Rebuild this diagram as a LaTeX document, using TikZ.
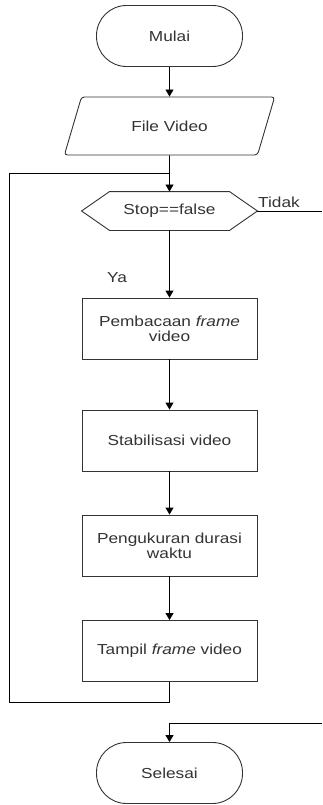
\documentclass[tikz,border=0pt]{standalone}
\usepackage{fontspec}
\setmainfont{Liberation Sans}[FakeStretch=1.19]
\usepackage{tikz}
\usetikzlibrary{arrows.meta, shapes.geometric}

\begin{document}
\begin{tikzpicture}[x=1pt, y=-1pt, line width=0.9pt,
    font=\fontsize{14.5}{15}\selectfont,
    terminal/.style={rectangle, rounded corners=30pt, draw=black!80, text=black!80,
      minimum width=146pt, minimum height=61pt},
    process/.style={rectangle, draw=black!80, text=black!80, align=center,
      minimum width=175pt, minimum height=61pt},
    inout/.style={trapezium, trapezium left angle=65, trapezium right angle=115,
      trapezium stretches=true, rounded corners=3pt, draw=black!80, text=black!80,
      minimum width=212pt, minimum height=58pt},
    flow/.style={draw=black, -{Triangle[width=8pt,length=7pt]}}]
      \useasboundingbox (0,0) rectangle (322,805);

      \node[terminal] (mulai) at (169.5,36) {Mulai};
      \node[inout] (file) at (169.5,126) {File Video};

      % keputusan
      \node[minimum width=175pt, minimum height=38pt, text=black!80] (stop) at (169.5,211) {Stop==false};
      \draw[black!80] ([xshift=28pt]stop.north west) -- ([xshift=-28pt]stop.north east)
        -- (stop.east) -- ([xshift=-28pt]stop.south east)
        -- ([xshift=28pt]stop.south west) -- (stop.west) -- cycle;

      \node[process] (baca) at (169.5,328.5) {Pembacaan \textit{frame}\\video};
      \node[process] (stabil) at (169.5,440.5) {Stabilisasi video};
      \node[process] (ukur) at (169.5,545.5) {Pengukuran durasi\\waktu};
      \node[process] (tampil) at (169.5,651) {Tampil \textit{frame} video};

      \node[terminal] (selesai) at (169.5,773) {Selesai};

      \node[text=black!80] (tidak) at (279,202.5) {Tidak};
      \node[text=black!80] (ya) at (117,278) {Ya};

      \coordinate (j1) at (169.5,173);
      \coordinate (lb) at (9,702);
      \coordinate (out1) at (322,211);
      \coordinate (out2) at (322,723);

      \draw[flow] (mulai) -- (file);
      \draw (file.south) -- (j1);
      \draw[flow] (j1) -- (stop.north);
      \draw[flow] (stop.south) -- (baca);
      \draw[flow] (baca) -- (stabil);
      \draw[flow] (stabil) -- (ukur);
      \draw[flow] (ukur) -- (tampil);
      \draw (tampil.south) |- (lb) |- (j1);
      \draw (stop.east) -- (out1);
      \draw[flow] (out2) -| (selesai.north);
    \end{tikzpicture}
\end{document}
